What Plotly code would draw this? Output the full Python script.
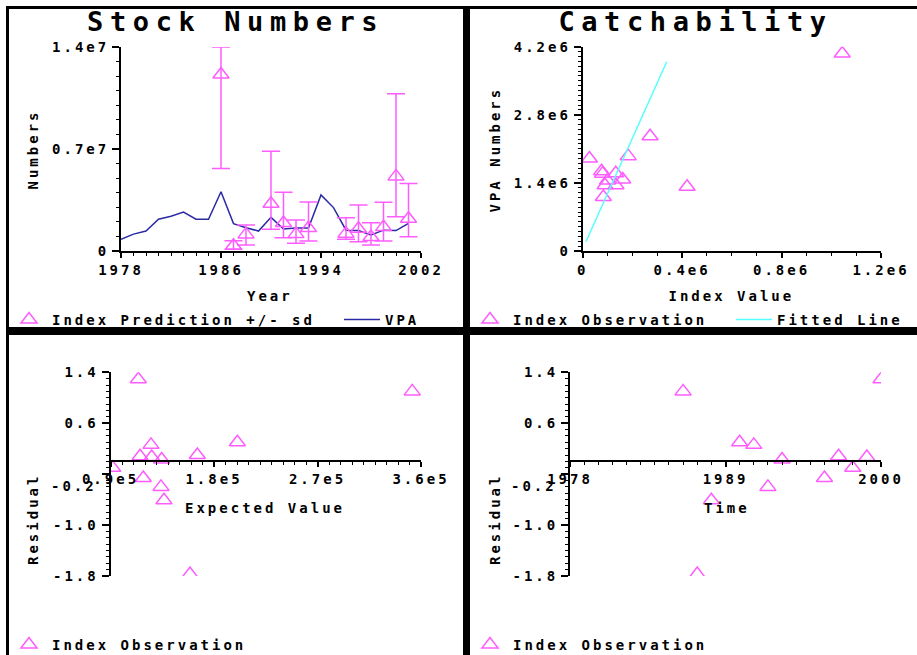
import plotly.graph_objects as go

W, H = 917, 655

# ---- data -------------------------------------------------------------
vpa_years = list(range(1978, 2002))
vpa_numbers = [0.80e6, 1.16e6, 1.37e6, 2.18e6, 2.39e6, 2.67e6, 2.18e6, 2.18e6,
               4.07e6, 1.88e6, 1.60e6, 1.37e6, 2.31e6, 1.51e6, 1.57e6, 1.57e6,
               3.85e6, 2.98e6, 1.43e6, 1.40e6, 1.10e6, 1.43e6, 1.40e6, 1.90e6]

obs_years = [1986, 1987, 1988, 1990, 1991, 1992, 1993, 1996, 1997, 1998, 1999, 2000, 2001]
index_pred = [12.11e6, 0.36e6, 1.14e6, 3.24e6, 1.92e6, 1.16e6, 1.58e6,
              1.19e6, 1.53e6, 0.96e6, 1.64e6, 5.12e6, 2.21e6]
pred_upper = [14.0e6, 0.70e6, 1.78e6, 6.85e6, 4.04e6, 2.12e6, 3.36e6,
              2.28e6, 3.15e6, 1.94e6, 3.34e6, 10.8e6, 4.64e6]
pred_lower = [5.67e6, 0.12e6, 0.41e6, 1.49e6, 0.91e6, 0.53e6, 0.69e6,
              0.80e6, 0.64e6, 0.41e6, 0.69e6, 2.35e6, 0.98e6]

index_value = [1.044e6, 0.027e6, 0.080e6, 0.271e6, 0.161e6, 0.090e6, 0.133e6,
               0.076e6, 0.134e6, 0.083e6, 0.100e6, 0.420e6, 0.183e6]
vpa_at_obs = [4.06e6, 1.90e6, 1.59e6, 2.36e6, 1.47e6, 1.35e6, 1.60e6,
              1.64e6, 1.35e6, 1.11e6, 1.45e6, 1.32e6, 1.95e6]
fit_x = [0.013e6, 0.338e6]
fit_y = [0.19e6, 3.89e6]

expected_value = [3.524e5, 1.591e5, 1.365e5, 2.003e5, 1.252e5, 1.339e5, 1.345e5,
                  1.185e5, 1.157e5, 0.919e5, 1.258e5, 1.142e5, 1.655e5]
residual = [1.10, -1.77, -0.61, 0.30, 0.26, -0.40, 0.03,
            -0.26, 0.08, -0.10, 0.07, 1.29, 0.10]

# ---- styling ----------------------------------------------------------
MAGENTA = '#ff5cff'
BLUE = '#2a2aa5'
CYAN = '#55ffff'
MONO = 'DejaVu Sans Mono'
FONT_S = dict(family=MONO, size=14, color='black', weight='bold')
FONT_T = dict(family=MONO, size=27, color='black', weight='bold')


def fx(px):
    return px / W


def fy(py):
    return 1 - py / H


tri = dict(symbol='triangle-up-open', size=14, color=MAGENTA,
           line=dict(color=MAGENTA, width=1.5))

fig = go.Figure()

# Stock Numbers
fig.add_trace(go.Scatter(x=vpa_years, y=vpa_numbers, mode='lines', name='VPA',
                         line=dict(color=BLUE, width=1.5),
                         xaxis='x', yaxis='y', legend='legend2', showlegend=True))
fig.add_trace(go.Scatter(
    x=obs_years, y=index_pred, mode='markers', name='Index Prediction +/- sd',
    marker=tri,
    error_y=dict(type='data', symmetric=False,
                 array=[u - p for u, p in zip(pred_upper, index_pred)],
                 arrayminus=[p - l for p, l in zip(index_pred, pred_lower)],
                 color=MAGENTA, thickness=1.5, width=9),
    xaxis='x', yaxis='y', legend='legend', showlegend=True))

# Catchability
fig.add_trace(go.Scatter(x=index_value, y=vpa_at_obs, mode='markers',
                         name='Index Observation', marker=tri,
                         xaxis='x2', yaxis='y2', legend='legend3', showlegend=True))
fig.add_trace(go.Scatter(x=fit_x, y=fit_y, mode='lines', name='Fitted Line',
                         line=dict(color=CYAN, width=1.5),
                         xaxis='x2', yaxis='y2', legend='legend4', showlegend=True))

# Residual vs expected value
fig.add_trace(go.Scatter(x=expected_value, y=residual, mode='markers',
                         name='Index Observation', marker=tri,
                         xaxis='x3', yaxis='y3', legend='legend5', showlegend=True))

# Residual vs time
fig.add_trace(go.Scatter(x=obs_years, y=residual, mode='markers',
                         name='Index Observation', marker=tri,
                         xaxis='x4', yaxis='y4', legend='legend6', showlegend=True))


def axis(**kw):
    base = dict(showline=True, linecolor='black', linewidth=2, mirror=False,
                ticks='outside', tickcolor='black', tickwidth=1.5,
                showgrid=False, zeroline=False, tickfont=FONT_S,
                tickmode='array', fixedrange=True, automargin=False)
    base.update(kw)
    return base


def minor(dtick, tick0):
    return dict(ticks='outside', ticklen=3, tickwidth=1, tickcolor='black',
                dtick=dtick, tick0=tick0, showgrid=False)


res_ticks = [1.4, 0.6, -0.2, -1.0, -1.8]
res_text = ['1.4', '0.6', '', '-1.0', '-1.8']
x_axis_zero = fy(461.4)

layout = dict(
    width=W, height=H, margin=dict(l=0, r=0, t=0, b=0, pad=0, autoexpand=False),
    paper_bgcolor='white', plot_bgcolor='white', showlegend=True,
    xaxis=axis(domain=[fx(121), fx(421)], range=[1978, 2002],
               tickvals=[1978, 1986, 1994, 2002], ticklen=5,
               minor=minor(1, 1978), anchor='y'),
    yaxis=axis(domain=[fy(251), fy(47)], range=[0, 1.4e7],
               tickvals=[0, 0.7e7, 1.4e7], ticktext=['0', '0.7e7', '1.4e7'],
               ticklen=7, minor=minor(1e6, 0), anchor='x'),
    xaxis2=axis(domain=[fx(582.7), fx(881)], range=[0, 1.2e6],
                tickvals=[0, 0.4e6, 0.8e6, 1.2e6],
                ticktext=['0', '0.4e6', '0.8e6', '1.2e6'], ticklen=5,
                minor=minor(1e5, 0), anchor='y2'),
    yaxis2=axis(domain=[fy(251), fy(46.7)], range=[0, 4.2e6],
                tickvals=[0, 1.4e6, 2.8e6, 4.2e6],
                ticktext=['0', '1.4e6', '2.8e6', '4.2e6'], ticklen=7,
                minor=minor(1e5, 0), anchor='x2'),
    xaxis3=axis(domain=[fx(110.5), fx(421)], range=[0.9e5, 3.6e5],
                tickvals=[0.9e5, 1.8e5, 2.7e5, 3.6e5],
                ticktext=['0.9e5', '1.8e5', '2.7e5', '3.6e5'], ticklen=5,
                minor=minor(1e4, 0), anchor='free', position=x_axis_zero),
    yaxis3=axis(domain=[fy(576), fy(372.3)], range=[-1.8, 1.4],
                tickvals=res_ticks, ticktext=res_text, ticklen=7,
                minor=minor(0.1, 0), anchor='x3'),
    xaxis4=axis(domain=[fx(570), fx(881)], range=[1978, 2000],
                tickvals=[1978, 1989, 2000], ticklen=5,
                minor=minor(1, 1978), anchor='free', position=x_axis_zero),
    yaxis4=axis(domain=[fy(576), fy(372.3)], range=[-1.8, 1.4],
                tickvals=res_ticks, ticktext=res_text, ticklen=7,
                minor=minor(0.1, 0), anchor='x4'),
)


def legend_at(x_px, y_px):
    return dict(x=fx(x_px), y=fy(y_px), xanchor='left', yanchor='middle',
                orientation='h', itemwidth=36, font=FONT_S,
                bgcolor='rgba(0,0,0,0)', borderwidth=0)


layout['legend'] = legend_at(6, 320)
layout['legend2'] = legend_at(339, 320)
layout['legend3'] = legend_at(467, 320)
layout['legend4'] = legend_at(731, 320)
layout['legend5'] = legend_at(6, 645)
layout['legend6'] = legend_at(467, 645)

fig.update_layout(**layout)


def label(text, x_px, y_px, font=FONT_S, angle=0, xanchor='center', align='center'):
    fig.add_annotation(text=text, x=fx(x_px), y=fy(y_px), xref='paper', yref='paper',
                       showarrow=False, font=font, textangle=angle,
                       xanchor=xanchor, yanchor='middle', align=align)


# panel titles
label('Stock Numbers', 235.5, 22, FONT_T)
label('Catchability', 695.5, 22, FONT_T)
# axis titles
label('Year', 270, 296)
label('Numbers', 33, 150, angle=-90)
label('Index Value', 731.7, 296)
label('VPA Numbers', 495, 150, angle=-90)
label('Expected Value', 265, 507.7)
label('Residual', 33, 520, angle=-90)
label('Time', 727, 507.7)
label('Residual', 495, 520, angle=-90)
# the -0.2 residual tick label sits just below the crossing x axis
label('-0.2', 99, 485.7, xanchor='right', align='right')
label('-0.2', 559, 485.7, xanchor='right', align='right')

# panel frames
frames = [
    (6, 6, 917, 9),       # top edge
    (6, 6, 9, 655),       # left edge
    (463, 6, 470, 655),   # vertical divider
    (6, 327, 917, 335),   # horizontal divider
]
for x0, y0, x1, y1 in frames:
    fig.add_shape(type='rect', xref='paper', yref='paper',
                  x0=fx(x0), x1=fx(x1), y0=fy(y1), y1=fy(y0),
                  fillcolor='black', line=dict(width=0), layer='above')

# widen the glyph spacing of all labels to the chart's blocky lettering,
# and let the legend texts run past their measured boxes
spacing_js = """
var gd = document.getElementById('{plot_id}');
gd.querySelectorAll('text').forEach(function(t) {
  var fs = parseFloat(t.style.fontSize) || 14;
  t.style.letterSpacing = (fs > 20 ? 6.6 : 3) + 'px';
});
gd.querySelectorAll('.scrollbox').forEach(function(e) {
  e.removeAttribute('clip-path');
});
"""

fig.write_html("out.html", post_script=spacing_js,
               config=dict(displayModeBar=False, responsive=False))
